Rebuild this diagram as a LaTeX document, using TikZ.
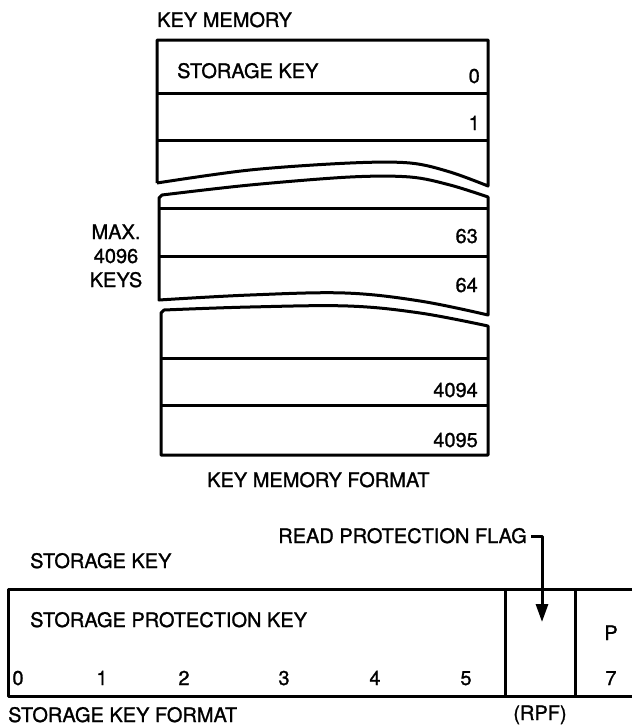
\documentclass[tikz,border=0pt]{standalone}
\usepackage{fontspec}
\setmainfont{TeX Gyre Heros}[FakeBold=1.2]
\usetikzlibrary{arrows.meta}
\begin{document}
\begin{tikzpicture}[x=1pt,y=-1pt,line join=round,
  lbl/.style={inner sep=0pt,font=\fontsize{20}{24}\selectfont},
  boxline/.style={line width=3pt}]
\useasboundingbox (0,0) rectangle (632,728);

% ---------- KEY MEMORY ----------
\node[lbl,anchor=base west] (kmtitle) at (157,27) {KEY MEMORY};

% piece 1
\draw[boxline] (157,183) -- (157,40) -- (488,40) -- (488,186)
  -- plot[smooth,tension=0.55] coordinates {(488,186) (450,172) (410,163) (350,163) (250,170) (157,183)};
\draw[boxline] (157,93) -- (488,93);
\draw[boxline] (157,140) -- (488,140);

% piece 2
\draw[boxline] (488,197)
  -- plot[smooth,tension=0.55] coordinates {(488,197) (450,185) (410,177) (350,177) (250,185) (162,195)}
  -- (159,198) -- (159,300)
  -- plot[smooth,tension=0.6] coordinates {(159,300) (250,295) (345,293) (420,301) (488,315)}
  -- cycle;
\draw[boxline] (159,208) -- (488,208);
\draw[boxline] (159,256) -- (488,256);

% piece 3
\draw[boxline] (488,326)
  -- plot[smooth,tension=0.6] coordinates {(488,326) (420,313) (348,306) (250,307) (164,310)}
  -- (161,313) -- (161,455) -- (488,455) -- cycle;
\draw[boxline] (161,358) -- (488,358);
\draw[boxline] (161,405) -- (488,405);

\node[lbl,anchor=base west] (sk) at (177,78) {STORAGE KEY};
\node[lbl,anchor=base east] (n0) at (480,83) {0};
\node[lbl,anchor=base east] (n1) at (480,130) {1};
\node[lbl,anchor=base east] (n63) at (478,243) {63};
\node[lbl,anchor=base east] (n64) at (478,292) {64};
\node[lbl,anchor=base east] (n4094) at (478,397) {4094};
\node[lbl,anchor=base east] (n4095) at (478,447) {4095};

\node[lbl,anchor=base] (max) at (116,239) {MAX.};
\node[lbl,anchor=base] (m4096) at (116,263) {4096};
\node[lbl,anchor=base] (keys) at (116,287) {KEYS};

\node[lbl,anchor=base west] (kmf) at (207,487) {KEY MEMORY FORMAT};

% ---------- STORAGE KEY FORMAT ----------
\node[lbl,anchor=base east] (rpflag) at (527,543) {READ PROTECTION FLAG};
\node[lbl,anchor=base west] (sktitle) at (30,568) {STORAGE KEY};

\draw[boxline] (632,589) -- (8,589) -- (8,696) -- (632,696);
\draw[boxline] (505,589) -- (505,696);
\draw[boxline] (575,589) -- (575,696);

\node[lbl,anchor=base west] (spk) at (30,627) {STORAGE PROTECTION KEY};
\node[lbl,anchor=base] (b0) at (18,685) {0};
\node[lbl,anchor=base] (b1) at (102,685) {1};
\node[lbl,anchor=base] (b2) at (184,685) {2};
\node[lbl,anchor=base] (b3) at (284,685) {3};
\node[lbl,anchor=base] (b4) at (375,685) {4};
\node[lbl,anchor=base] (b5) at (466,685) {5};
\node[lbl,anchor=base] (bp) at (611,640) {P};
\node[lbl,anchor=base] (b7) at (611,685) {7};
\node[lbl,anchor=base] (rpf) at (540,720) {(RPF)};
\node[lbl,anchor=base west] (skf) at (8,722) {STORAGE KEY FORMAT};

\coordinate (astart) at (531,536);
\coordinate (atip) at (542,622);
\draw[line width=3pt,-{Triangle[length=18pt,width=12pt]}] (astart) -| (atip);
\end{tikzpicture}
\end{document}
